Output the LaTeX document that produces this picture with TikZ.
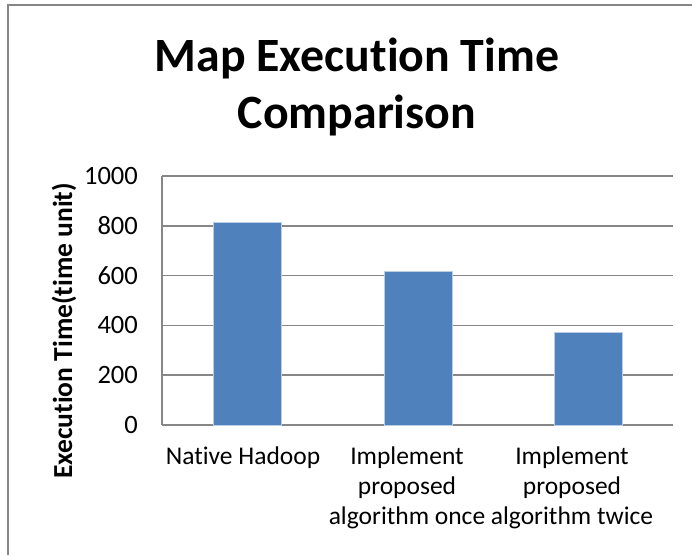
\documentclass[tikz,border=0pt]{standalone}
\usepackage{fontspec}
\setmainfont{Carlito}[Ligatures=NoCommon]
\definecolor{barblue}{HTML}{4F81BD}
\definecolor{gridgray}{HTML}{868686}

\begin{document}
\begin{tikzpicture}[x=1pt,y=-1pt,
    gridline/.style={gridgray, line width=1.5pt},
    bar/.style={fill=barblue, draw=barblue!40, line width=0.6pt},
    ticklabel/.style={anchor=east, font=\fontsize{26.5}{26.5}\selectfont, inner sep=0pt},
    catlabel/.style={anchor=north, align=center, inner sep=0pt,
        font=\fontsize{25.5}{30}\selectfont}]

    % Plot area in pixels
    \def\xo{162}
    \def\xe{673}
    \def\yo{425}
    \def\ys{0.249}

    \useasboundingbox (0,0) rectangle (692,555);

    % Outer frame
    \draw[gridgray, line width=1.6pt] (8,555) -- (8,5) -- (692,5);

    % Title
    \node[font=\bfseries\fontsize{47.8}{57}\selectfont, align=center, anchor=base] (title)
        at (357,128) {Map Execution Time\\Comparison};

    % Grid and tick labels
    \foreach \v in {0,200,...,1000} {
        \draw[gridline] (\xo,{\yo-\v*\ys}) -- (\xe,{\yo-\v*\ys});
        \node[ticklabel] (tick\v) at (138,{\yo-\v*\ys}) {\v};
    }
    \draw[gridline] (\xo,\yo) -- (\xo,{\yo-1000*\ys});

    % Bars
    \foreach \c/\v [count=\i] in {247/815, 418/618, 588/373}
        \draw[bar] (\c-34,\yo) rectangle (\c+34,{\yo-\v*\ys});

    % Category labels
    \node[catlabel] (cat1) at (243,447) {Native Hadoop};
    \node[catlabel] (cat2) at (407,447) {Implement\\proposed\\algorithm once};
    \node[catlabel] (cat3) at (572,447) {Implement\\proposed\\algorithm twice};

    % Axis label
    \node[rotate=90, anchor=base, font=\bfseries\fontsize{27.5}{27.5}\selectfont] (ylabel)
        at (72,331) {Execution Time(time unit)};

\end{tikzpicture}
\end{document}
